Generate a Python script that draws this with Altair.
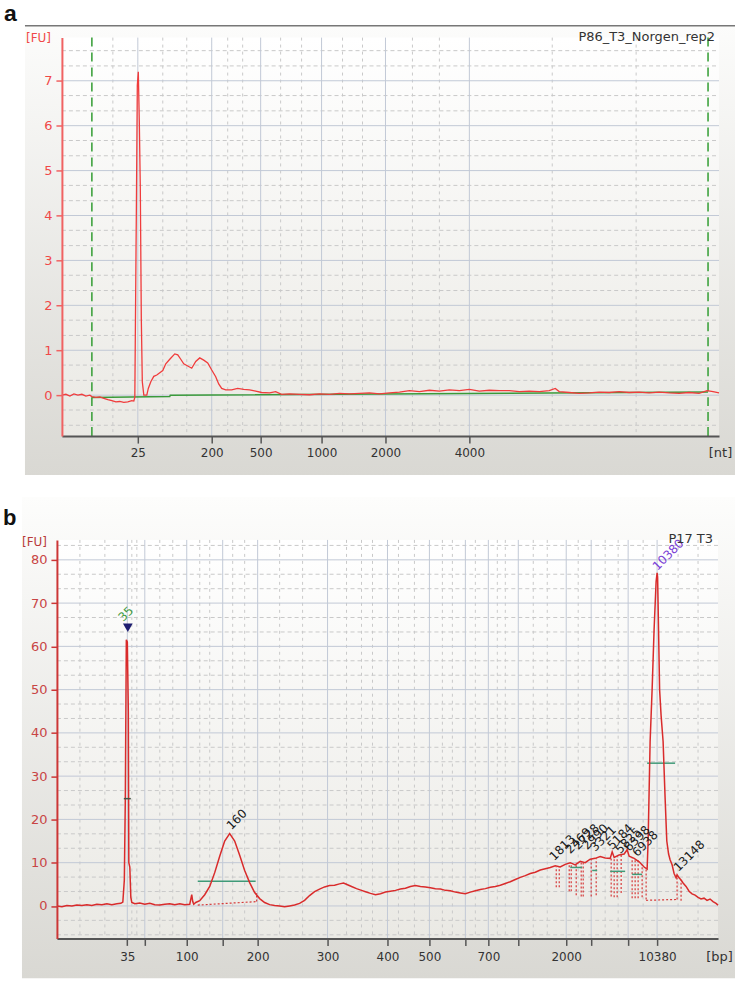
import altair as alt
import pandas as pd

# ---------------- Panel a : RNA electropherogram (x = migration time, s) ----------------
A_TIME = [6.2, 6.6, 7.0, 7.4, 7.8, 8.2, 8.6, 9.0, 9.2, 9.6, 10.0, 10.4, 10.8, 11.2, 11.6, 12.0,
          12.4, 12.8, 13.2, 13.4, 13.5, 13.55, 13.65, 13.75, 13.85, 13.95, 14.05, 14.15, 14.25,
          14.4, 14.7, 14.85, 15.1, 15.4, 15.7, 16.0, 16.3, 16.6, 17.0, 17.5, 17.8, 18.1, 18.4,
          18.8, 19.2, 19.6, 20.0, 20.4, 20.8, 21.2, 21.6, 21.9, 22.2, 22.6, 23.2, 23.8, 24.4,
          25.0, 25.6, 26.2, 27.0, 27.6, 28.2, 29.0, 30.0, 31.0, 32.0, 33.0, 34.0, 35.0, 36.0,
          37.0, 38.0, 39.0, 40.0, 41.0, 42.0, 43.0, 44.0, 45.0, 46.0, 47.0, 48.0, 49.0, 50.0,
          51.0, 52.0, 53.0, 54.0, 55.0, 55.6, 56.0, 57.0, 58.0, 59.0, 60.0, 61.0, 62.0, 63.0,
          64.0, 65.0, 66.0, 67.0, 68.0, 69.0, 70.0, 70.8, 71.4, 72.0]
A_FU = [0.0, 0.02, -0.02, 0.03, 0.0, 0.02, -0.02, 0.0, -0.03, -0.05, -0.04, -0.07, -0.1, -0.12,
        -0.15, -0.14, -0.16, -0.15, -0.12, -0.13, -0.05, 1.3, 4.0, 6.9, 7.2, 6.1, 4.6, 1.7, 0.3,
        0.0, 0.0, 0.15, 0.3, 0.42, 0.45, 0.5, 0.55, 0.7, 0.8, 0.92, 0.9, 0.8, 0.7, 0.65, 0.6,
        0.75, 0.83, 0.78, 0.72, 0.56, 0.41, 0.25, 0.15, 0.12, 0.12, 0.15, 0.13, 0.12, 0.09, 0.06,
        0.05, 0.08, 0.02, 0.03, 0.02, 0.01, 0.03, 0.02, 0.04, 0.03, 0.04, 0.05, 0.03, 0.05, 0.07,
        0.1, 0.08, 0.11, 0.09, 0.12, 0.1, 0.13, 0.09, 0.11, 0.1, 0.1, 0.08, 0.09, 0.08, 0.1, 0.15,
        0.08, 0.06, 0.04, 0.05, 0.07, 0.06, 0.08, 0.06, 0.07, 0.05, 0.07, 0.05, 0.04, 0.06, 0.04,
        0.1, 0.08, 0.05]
assert len(A_TIME) == len(A_FU)

A_BASE_TIME = [9.2, 17.0, 17.05, 70.9]
A_BASE_FU = [-0.05, -0.03, 0.0, 0.07]
A_MARKER_TIME = [9.2, 70.9]
A_TICK_TIME = [13.8, 21.2, 26.1, 32.2, 38.6, 47.0]
A_TICK_LABEL = ["25", "200", "500", "1000", "2000", "4000"]
A_MINOR_TIME = [11.3, 16.3, 18.7, 22.8, 24.3, 28.1, 30.2, 34.3, 36.3, 41.3, 44.0, 55.3, 63.7]
A_FU_MAJOR = [0, 1, 2, 3, 4, 5, 6, 7]
A_FU_MINOR = [-0.67, -0.33, 0.33, 0.67, 1.33, 1.67, 2.33, 2.67, 3.33, 3.67, 4.33, 4.67, 5.33,
              5.67, 6.33, 6.67, 7.33, 7.67]

# ---------------- Panel b : DNA electropherogram ----------------
B_TIME = [5.7, 6.2, 6.7, 7.2, 7.7, 8.2, 8.7, 9.2, 9.7, 10.2, 10.7, 11.2, 11.7, 12.1, 12.3, 12.45,
          12.55, 12.65, 12.75, 12.85, 12.9, 13.0, 13.1, 13.2, 13.5, 14.0, 14.5, 15.0, 15.5, 16.0,
          16.5, 17.0, 17.5, 18.0, 18.5, 19.0, 19.2, 19.3, 19.4, 19.6, 20.0, 20.5, 21.0, 21.5, 22.0,
          22.5, 23.0, 23.5, 24.0, 24.5, 25.0, 25.5, 26.0, 26.5, 27.0, 27.5, 28.0, 28.5, 29.0, 29.5,
          30.0, 30.5, 31.0, 31.5, 32.0, 32.5, 33.0, 33.5, 34.0, 34.4, 34.8, 35.2, 35.7, 36.2, 36.6,
          37.1, 37.6, 38.1, 38.6, 39.1, 39.6, 40.1, 40.6, 41.1, 41.6, 42.1, 42.6, 43.1, 43.6, 44.1,
          44.6, 45.1, 45.6, 46.1, 46.6, 47.1, 47.6, 48.1, 48.6, 49.1, 49.6, 50.1, 50.6, 51.1, 51.6,
          52.1, 52.6, 53.1, 53.6, 54.1, 54.6, 55.1, 55.6, 56.1, 56.6, 57.1, 57.6, 58.1, 58.6, 59.1,
          59.6, 60.1, 60.6, 61.1, 61.3, 61.5, 62.0, 62.5, 62.8, 63.0, 63.5, 64.0, 64.5, 64.8, 64.9,
          65.1, 65.3, 65.5, 65.7, 65.8, 65.85, 65.95, 66.05, 66.2, 66.4, 66.6, 66.77, 66.95, 67.1,
          67.3, 67.5, 67.7, 67.8, 68.0, 68.2, 68.4, 68.7, 69.0, 69.3, 69.6, 69.9, 70.2, 70.5, 70.8,
          71.1, 71.4, 71.7, 71.9]
B_FU = [0.0, -0.2, 0.1, 0.0, 0.2, 0.1, 0.3, 0.1, 0.4, 0.3, 0.5, 0.3, 0.5, 0.6, 0.9, 6.0, 25.0,
        61.5, 61.0, 45.0, 10.0, 9.0, 2.0, 0.8, 0.5, 0.7, 0.4, 0.6, 0.3, 0.2, 0.4, 0.5, 0.3, 0.5,
        0.3, 0.4, 2.6, 1.0, 0.4, 0.8, 1.2, 2.6, 4.5, 7.7, 11.5, 15.0, 16.7, 15.0, 11.7, 8.2, 5.4,
        3.1, 1.7, 0.8, 0.3, 0.1, 0.0, -0.2, 0.0, 0.2, 0.6, 1.3, 2.4, 3.3, 3.9, 4.4, 4.7, 4.8, 5.1,
        5.3, 4.9, 4.5, 4.0, 3.6, 3.3, 2.9, 2.6, 2.8, 3.2, 3.4, 3.6, 3.9, 4.1, 4.5, 4.7, 4.5, 4.4,
        4.2, 4.0, 3.9, 3.6, 3.5, 3.2, 3.0, 2.8, 3.2, 3.5, 3.8, 4.0, 4.3, 4.5, 4.8, 5.2, 5.6, 6.1,
        6.6, 7.0, 7.5, 7.8, 8.3, 8.6, 8.9, 9.3, 9.0, 9.6, 10.0, 9.5, 10.3, 10.0, 10.8, 11.0, 11.4,
        11.1, 11.0, 12.5, 11.2, 11.8, 12.0, 13.0, 11.5, 11.0, 10.2, 9.0, 8.5, 15.0, 38.0, 50.0,
        64.0, 75.0, 77.0, 76.0, 63.0, 50.0, 44.0, 38.0, 25.0, 15.0, 12.0, 10.7, 9.5, 7.5, 6.5,
        7.2, 6.5, 6.0, 5.3, 4.5, 3.4, 2.8, 2.5, 2.0, 1.6, 1.8, 1.3, 1.6, 1.0, 0.6, 0.2]
assert len(B_TIME) == len(B_FU)

B_TICK_TIME = [12.75, 14.5, 18.7, 22.3, 25.8, 32.8, 38.8, 43.0, 46.6, 48.9, 51.9, 56.7, 59.2,
               62.9, 65.8]
B_TICK_LABEL = ["35", "", "100", "", "200", "300", "400", "500", "", "700", "", "2000", "",
                "", "10380"]
B_MINOR_TIME = [8.0, 10.5, 13.2, 13.7, 16.0, 17.3, 20.0, 21.0, 23.3, 24.5, 28.0, 30.3, 34.7,
                36.2, 37.3, 39.9, 41.5, 44.3, 45.3, 47.6, 49.8, 50.6, 53.4, 54.8, 57.9, 60.6,
                61.9, 64.4, 67.9, 69.9]
B_FU_MAJOR = [0, 10, 20, 30, 40, 50, 60, 70, 80]
B_FU_MINOR = [-6.67, -3.33, 3.33, 6.67, 13.33, 16.67, 23.33, 26.67, 33.33, 36.67, 43.33, 46.67,
              53.33, 56.67, 63.33, 66.67, 73.33, 76.67, 83.33]

# peak size labels (label, time, FU of label centre, colour)
B_LABEL_TEXT = ["35", "160", "10380", "13148", "1813", "2469", "2728", "2990", "3321", "5184",
                "5825", "6398", "6938"]
B_LABEL_TIME = [12.6, 23.7, 66.9, 69.0, 56.3, 57.9, 58.7, 59.6, 60.4, 62.1, 62.9, 63.8, 64.6]
B_LABEL_FU = [67.5, 20.0, 81.2, 11.6, 13.5, 15.1, 16.0, 16.0, 15.6, 16.0, 15.1, 15.6, 14.4]
B_LABEL_COLOR = ["#3f9a3f", "#1a1a1a", "#7b3fd6", "#1a1a1a", "#1a1a1a", "#1a1a1a", "#1a1a1a",
                 "#1a1a1a", "#1a1a1a", "#1a1a1a", "#1a1a1a", "#1a1a1a", "#1a1a1a"]

# marker peak (lower marker) triangle
B_MARK_TIME = [12.8]
B_MARK_FU = [64.3]

# dotted peak baselines / boundaries (x, y, x2, y2)
B_SEG_X = [19.8, 25.7, 64.7, 67.8, 68.2, 55.7, 56.0, 57.0, 57.2, 57.7, 58.2, 58.4, 59.2, 59.7,
           61.2, 61.5, 61.8, 62.2, 63.3, 63.6, 63.9, 64.3, 64.7]
B_SEG_Y = [0.2, 1.0, 1.3, 1.5, 1.2, 4.3, 4.3, 3.4, 3.4, 2.5, 2.2, 2.2, 2.2, 2.5, 2.2, 2.0, 2.0,
           3.0, 1.8, 1.8, 1.8, 2.0, 1.5]
B_SEG_X2 = [25.7, 25.7, 67.8, 67.8, 68.2, 55.7, 56.0, 57.0, 57.2, 57.7, 58.2, 58.4, 59.2, 59.7,
            61.2, 61.5, 61.8, 62.2, 63.3, 63.6, 63.9, 64.3, 64.7]
B_SEG_Y2 = [1.0, 3.0, 1.5, 7.0, 6.0, 9.0, 9.0, 9.5, 9.5, 10.0, 10.2, 10.0, 10.8, 11.0, 11.0,
            11.2, 11.5, 11.8, 11.2, 11.0, 10.6, 9.5, 8.5]

# peak width bars (green) : x, x2, y
B_WID_X = [19.8, 64.8, 57.1, 59.3, 61.1, 63.3]
B_WID_X2 = [25.6, 67.6, 58.3, 59.8, 62.6, 64.3]
B_WID_Y = [5.7, 33.0, 8.9, 8.2, 8.0, 7.3]

FONT = "DejaVu Sans"
ONE = pd.DataFrame({"k": [0]})
H = 399
W = 663          # both panels share the same origin (x = 57 px)
A_X0 = 5         # panel a plot area starts 5 px to the right of the shared origin
WB = 662


def label_expr(vals, labels):
    parts = [f"datum.value == {v} ? '{l}'" for v, l in zip(vals, labels)]
    return " : ".join(parts) + " : ''"


def grad(top, bottom):
    return alt.LinearGradient(gradient="linear",
                              stops=[alt.GradientStop(color=top, offset=0),
                                     alt.GradientStop(color=bottom, offset=1)],
                              x1=0, x2=0, y1=0, y2=1)


def vrules(vals, xs, color, dash=None, width=1.0):
    kw = dict(color=color, strokeWidth=width)
    if dash:
        kw["strokeDash"] = dash
    return alt.Chart(pd.DataFrame({"t": vals})).mark_rule(**kw).encode(
        x=alt.X("t:Q", scale=xs), y=alt.value(0), y2=alt.value(H))


def hrules(vals, ys, x0, x1, color, dash=None, width=1.0):
    kw = dict(color=color, strokeWidth=width)
    if dash:
        kw["strokeDash"] = dash
    return alt.Chart(pd.DataFrame({"v": vals})).mark_rule(**kw).encode(
        y=alt.Y("v:Q", scale=ys), x=alt.value(x0), x2=alt.value(x1))


def x_axis(vals, labels, title, tx, ty, pad):
    return alt.Axis(values=vals, labelExpr=label_expr(vals, labels), grid=False, zindex=1,
                    domainColor="#555555", domainWidth=2, tickColor="#555555", tickSize=7,
                    tickWidth=1.5, labelPadding=pad, labelFont=FONT, labelFontSize=12,
                    labelColor="#333333", labelOverlap=False, labelFlush=False, title=title,
                    titleX=tx, titleY=ty, titleAlign="center", titleBaseline="middle",
                    titleFont=FONT, titleFontSize=13, titleFontWeight="normal",
                    titleColor="#333333")


def y_axis(vals, dom_color, lab_color, tit_color, tx, ty, offset):
    return alt.Axis(values=vals, format="d", grid=False, zindex=1, domainColor=dom_color,
                    domainWidth=2, tickColor=dom_color, tickSize=6, tickWidth=1.5,
                    labelPadding=4, labelFont=FONT, labelFontSize=13, labelColor=lab_color,
                    title="[FU]", titleAngle=0, titleX=tx, titleY=ty, titleAlign="center",
                    titleBaseline="middle", titleFont=FONT, titleFontSize=12,
                    titleFontWeight="normal", titleColor=tit_color, offset=offset)


MAJOR = "#c2c9d6"
MINOR = "#c9c9c9"

# ---------------- build panel a ----------------
xa = alt.Scale(domain=[6.2, 72.0], range=[A_X0, W], nice=False, zero=False)
ya = alt.Scale(domain=[-0.91, 7.96], nice=False, zero=False)

a_canvas = alt.Chart(ONE).mark_rect(opacity=0).encode(
    x=alt.value(-57), x2=alt.value(679), y=alt.value(-37), y2=alt.value(453))
a_frame = alt.Chart(ONE).mark_rect(fill=grad("#fcfcfb", "#d9d8d3")).encode(
    x=alt.value(-32), x2=alt.value(679), y=alt.value(-12), y2=alt.value(438))
a_plotbg = alt.Chart(ONE).mark_rect(fill=grad("#ffffff", "#eae9e4")).encode(
    x=alt.value(A_X0), x2=alt.value(W), y=alt.value(0), y2=alt.value(H))
a_topline = alt.Chart(ONE).mark_rule(color="#777777", strokeWidth=1.5).encode(
    x=alt.value(-32), x2=alt.value(679), y=alt.value(-12))
a_letter = alt.Chart(ONE).mark_text(text="a", font="Liberation Sans", fontSize=23,
                                    fontWeight="bold", align="left", baseline="alphabetic",
                                    color="#111").encode(x=alt.value(-53), y=alt.value(-17))
a_title = alt.Chart(ONE).mark_text(text="P86_T3_Norgen_rep2", font=FONT, fontSize=13,
                                   align="right", baseline="alphabetic", color="#333").encode(
    x=alt.value(659), y=alt.value(3))

a_trace = alt.Chart(pd.DataFrame({"t": A_TIME, "fu": A_FU})).mark_line(
    color="#f03c3c", strokeWidth=1.3).encode(
    x=alt.X("t:Q", scale=xa, axis=x_axis(A_TICK_TIME, A_TICK_LABEL, "[nt]", 664, 16, 4)),
    y=alt.Y("fu:Q", scale=ya,
            axis=y_axis(A_FU_MAJOR, "#f06262", "#f04848", "#f04848", -24, 0, -A_X0)))
a_markers = alt.Chart(pd.DataFrame({"t": A_MARKER_TIME})).mark_rule(
    color="#3fa23f", strokeWidth=1.6, strokeDash=[9, 6]).encode(
    x=alt.X("t:Q", scale=xa), y=alt.value(0), y2=alt.value(H))
a_base = alt.Chart(pd.DataFrame({"t": A_BASE_TIME, "fu": A_BASE_FU})).mark_line(
    color="#3a9a3a", strokeWidth=1.5).encode(
    x=alt.X("t:Q", scale=xa), y=alt.Y("fu:Q", scale=ya))

panel_a = alt.layer(
    a_canvas, a_frame, a_plotbg,
    hrules(A_FU_MINOR, ya, A_X0, W, MINOR, [4, 3]),
    vrules(A_MINOR_TIME, xa, MINOR, [3, 4]),
    hrules(A_FU_MAJOR, ya, A_X0, W, MAJOR),
    vrules(A_TICK_TIME, xa, MAJOR),
    a_markers, a_base, a_trace, a_topline, a_letter, a_title,
).properties(width=W, height=H)

# ---------------- build panel b ----------------
xb = alt.Scale(domain=[5.7, 71.9], range=[0, WB], nice=False, zero=False)
yb = alt.Scale(domain=[-7.5, 84.6], nice=False, zero=False)

b_canvas = alt.Chart(ONE).mark_rect(opacity=0).encode(
    x=alt.value(-57), x2=alt.value(679), y=alt.value(-50), y2=alt.value(442))
b_frame = alt.Chart(ONE).mark_rect(fill=grad("#fdfdfc", "#d9d8d3")).encode(
    x=alt.value(-35), x2=alt.value(679), y=alt.value(-43), y2=alt.value(439))
b_plotbg = alt.Chart(ONE).mark_rect(fill=grad("#ffffff", "#eae9e4")).encode(
    x=alt.value(0), x2=alt.value(WB), y=alt.value(0), y2=alt.value(H))
b_letter = alt.Chart(ONE).mark_text(text="b", font="Liberation Sans", fontSize=22,
                                    fontWeight="bold", align="left", baseline="alphabetic",
                                    color="#111").encode(x=alt.value(-54), y=alt.value(-15))
b_title = alt.Chart(ONE).mark_text(text="P17 T3", font=FONT, fontSize=13, align="right",
                                   baseline="alphabetic", color="#333").encode(
    x=alt.value(657), y=alt.value(3))

b_trace = alt.Chart(pd.DataFrame({"t": B_TIME, "fu": B_FU})).mark_line(
    color="#d92b2b", strokeWidth=1.5).encode(
    x=alt.X("t:Q", scale=xb, axis=x_axis(B_TICK_TIME, B_TICK_LABEL, "[bp]", 663, 18, 6)),
    y=alt.Y("fu:Q", scale=yb,
            axis=y_axis(B_FU_MAJOR, "#cc3636", "#c84444", "#b83a3a", -23, 2, 0)))
b_seg = alt.Chart(pd.DataFrame({"x": B_SEG_X, "y": B_SEG_Y, "x2": B_SEG_X2, "y2": B_SEG_Y2})
                  ).mark_rule(color="#d63a3a", strokeWidth=1.2, strokeDash=[2, 2]).encode(
    x=alt.X("x:Q", scale=xb), x2="x2:Q", y=alt.Y("y:Q", scale=yb), y2="y2:Q")
b_wid = alt.Chart(pd.DataFrame({"x": B_WID_X, "x2": B_WID_X2, "y": B_WID_Y})).mark_rule(
    color="#3f9a78", strokeWidth=1.5).encode(
    x=alt.X("x:Q", scale=xb), x2="x2:Q", y=alt.Y("y:Q", scale=yb))
b_tri = alt.Chart(pd.DataFrame({"t": B_MARK_TIME, "fu": B_MARK_FU})).mark_point(
    shape="triangle-down", filled=True, size=95, color="#1e1e70", opacity=1).encode(
    x=alt.X("t:Q", scale=xb), y=alt.Y("fu:Q", scale=yb))
b_labels = alt.Chart(pd.DataFrame({"txt": B_LABEL_TEXT, "t": B_LABEL_TIME, "fu": B_LABEL_FU,
                                   "c": B_LABEL_COLOR})).mark_text(
    font=FONT, fontSize=12, angle=315, align="center", baseline="middle").encode(
    x=alt.X("t:Q", scale=xb), y=alt.Y("fu:Q", scale=yb),
    text="txt:N", color=alt.Color("c:N", scale=None, legend=None))
b_tick35 = alt.Chart(pd.DataFrame({"x": [12.4], "x2": [13.1], "y": [24.8]})).mark_rule(
    color="#445544", strokeWidth=1.5).encode(
    x=alt.X("x:Q", scale=xb), x2="x2:Q", y=alt.Y("y:Q", scale=yb))

panel_b = alt.layer(
    b_canvas, b_frame, b_plotbg,
    hrules(B_FU_MINOR, yb, 0, WB, MINOR, [4, 3]),
    vrules(B_MINOR_TIME, xb, MINOR, [3, 4]),
    hrules(B_FU_MAJOR, yb, 0, WB, MAJOR),
    vrules(B_TICK_TIME, xb, MAJOR),
    b_seg, b_wid, b_trace, b_tick35, b_tri, b_labels, b_letter, b_title,
).properties(width=W, height=H)

chart = alt.vconcat(panel_a, panel_b, spacing=0).properties(
    padding=0, background="white").configure_view(strokeWidth=0)

chart.save("out.html", embed_options={"renderer": "svg", "actions": False})
